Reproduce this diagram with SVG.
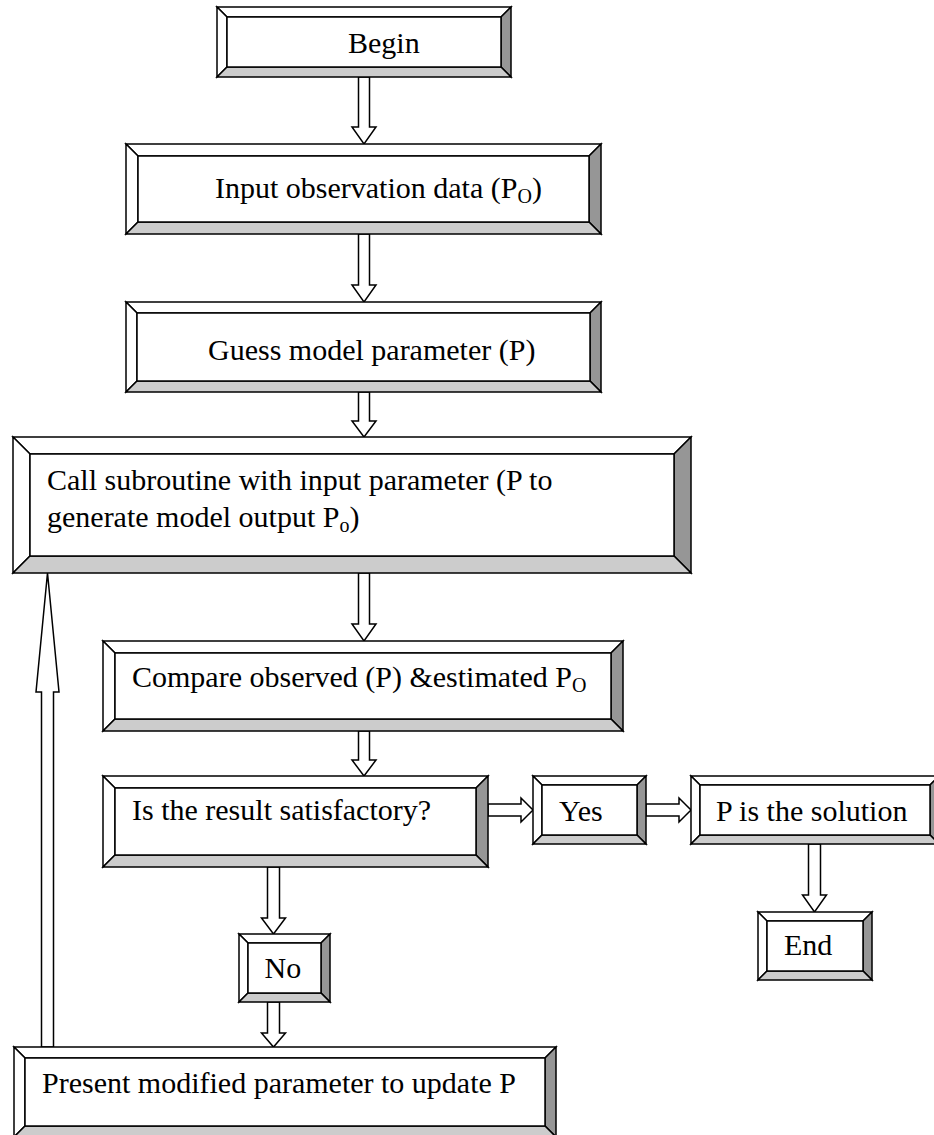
<svg xmlns="http://www.w3.org/2000/svg" width="934" height="1135" viewBox="0 0 934 1135">
<style>
.w{fill:#ffffff;stroke:#000;stroke-width:1.5;stroke-linejoin:miter}
.r{fill:#969696;stroke:#000;stroke-width:1.5}
.b{fill:#cccccc;stroke:#000;stroke-width:1.5}
.i{fill:#ffffff;stroke:#000;stroke-width:1.5}
.a{fill:#ffffff;stroke:#000;stroke-width:1.5;stroke-linejoin:miter}
text{font-family:"Liberation Serif","Times New Roman",serif;font-size:30px;fill:#000}
.s{font-size:20px}
</style>
<rect width="934" height="1135" fill="#ffffff"/>
<g id="connectors">
<polygon class="a" points="358.5,77 369.5,77 369.5,127 376,127 364,144 352,127 358.5,127"/>
<polygon class="a" points="358.5,234 369.5,234 369.5,285 376,285 364,302 352,285 358.5,285"/>
<polygon class="a" points="358.5,392 369.5,392 369.5,421 376,421 364,437 352,421 358.5,421"/>
<polygon class="a" points="358.5,573 369.5,573 369.5,624 376,624 364,641 352,624 358.5,624"/>
<polygon class="a" points="358.5,731 369.5,731 369.5,760 376,760 364,776 352,760 358.5,760"/>
<polygon class="a" points="267.5,867 279.5,867 279.5,918 285.5,918 273.5,934 261.5,918 267.5,918"/>
<polygon class="a" points="267.5,1002 279.5,1002 279.5,1033 285.5,1033 273.5,1047 261.5,1033 267.5,1033"/>
<polygon class="a" points="488,804 521,804 521,798 533,810 521,822 521,816 488,816"/>
<polygon class="a" points="646,804 679,804 679,798 691,810 679,822 679,816 646,816"/>
<polygon class="a" points="808.5,844 820.5,844 820.5,895 826.5,895 814.5,912 802.5,895 808.5,895"/>
<polygon class="a" points="41.5,1047 53.5,1047 53.5,692 59,692 47.5,573 36,692 41.5,692"/>
</g>
<g id="begin">
<path class="w" d="M217 7 H511 L501 17 H227 Z"/>
<path class="w" d="M217 7 L227 17 V67 L217 77 Z"/>
<path class="r" d="M511 7 V77 L501 67 V17 Z"/>
<path class="b" d="M217 77 H511 L501 67 H227 Z"/>
<rect class="i" x="227" y="17" width="274" height="50"/>
<text x="348" y="53">Begin</text>
</g>
<g id="input">
<path class="w" d="M126 144 H601 L589 156 H138 Z"/>
<path class="w" d="M126 144 L138 156 V222 L126 234 Z"/>
<path class="r" d="M601 144 V234 L589 222 V156 Z"/>
<path class="b" d="M126 234 H601 L589 222 H138 Z"/>
<rect class="i" x="138" y="156" width="451" height="66"/>
<text x="215" y="198">Input observation data (P<tspan class="s" dy="5">O</tspan><tspan dy="-5">)</tspan></text>
</g>
<g id="guess">
<path class="w" d="M126 302 H601 L590 313 H137 Z"/>
<path class="w" d="M126 302 L137 313 V381 L126 392 Z"/>
<path class="r" d="M601 302 V392 L590 381 V313 Z"/>
<path class="b" d="M126 392 H601 L590 381 H137 Z"/>
<rect class="i" x="137" y="313" width="453" height="68"/>
<text x="208" y="360">Guess model parameter (P)</text>
</g>
<g id="call">
<path class="w" d="M13 437 H691 L674 454 H30 Z"/>
<path class="w" d="M13 437 L30 454 V556 L13 573 Z"/>
<path class="r" d="M691 437 V573 L674 556 V454 Z"/>
<path class="b" d="M13 573 H691 L674 556 H30 Z"/>
<rect class="i" x="30" y="454" width="644" height="102"/>
<text x="47" y="490">Call subroutine with input parameter (P to</text>
<text x="47" y="527">generate model output P<tspan class="s" dy="5">o</tspan><tspan dy="-5">)</tspan></text>
</g>
<g id="compare">
<path class="w" d="M103 641 H623 L611 653 H115 Z"/>
<path class="w" d="M103 641 L115 653 V719 L103 731 Z"/>
<path class="r" d="M623 641 V731 L611 719 V653 Z"/>
<path class="b" d="M103 731 H623 L611 719 H115 Z"/>
<rect class="i" x="115" y="653" width="496" height="66"/>
<text x="132" y="687">Compare observed (P) &amp;estimated P<tspan class="s" dy="5">O</tspan></text>
</g>
<g id="satisfactory">
<path class="w" d="M103 776 H488 L476 788 H115 Z"/>
<path class="w" d="M103 776 L115 788 V855 L103 867 Z"/>
<path class="r" d="M488 776 V867 L476 855 V788 Z"/>
<path class="b" d="M103 867 H488 L476 855 H115 Z"/>
<rect class="i" x="115" y="788" width="361" height="67"/>
<text x="132" y="820">Is the result satisfactory?</text>
</g>
<g id="yes">
<path class="w" d="M533 776 H646 L637 785 H542 Z"/>
<path class="w" d="M533 776 L542 785 V835 L533 844 Z"/>
<path class="r" d="M646 776 V844 L637 835 V785 Z"/>
<path class="b" d="M533 844 H646 L637 835 H542 Z"/>
<rect class="i" x="542" y="785" width="95" height="50"/>
<text x="559" y="821">Yes</text>
</g>
<g id="solution">
<path class="w" d="M691 776 H939 L930 785 H700 Z"/>
<path class="w" d="M691 776 L700 785 V835 L691 844 Z"/>
<path class="r" d="M939 776 V844 L930 835 V785 Z"/>
<path class="b" d="M691 844 H939 L930 835 H700 Z"/>
<rect class="i" x="700" y="785" width="230" height="50"/>
<text x="716" y="821">P is the solution</text>
</g>
<g id="end">
<path class="w" d="M758 912 H872 L863 921 H767 Z"/>
<path class="w" d="M758 912 L767 921 V971 L758 980 Z"/>
<path class="r" d="M872 912 V980 L863 971 V921 Z"/>
<path class="b" d="M758 980 H872 L863 971 H767 Z"/>
<rect class="i" x="767" y="921" width="96" height="50"/>
<text x="784" y="955">End</text>
</g>
<g id="no">
<path class="w" d="M239 934 H330 L321 943 H248 Z"/>
<path class="w" d="M239 934 L248 943 V993 L239 1002 Z"/>
<path class="r" d="M330 934 V1002 L321 993 V943 Z"/>
<path class="b" d="M239 1002 H330 L321 993 H248 Z"/>
<rect class="i" x="248" y="943" width="73" height="50"/>
<text x="264.5" y="978">No</text>
</g>
<g id="present">
<path class="w" d="M14 1047 H556 L545 1058 H25 Z"/>
<path class="w" d="M14 1047 L25 1058 V1126 L14 1137 Z"/>
<path class="r" d="M556 1047 V1137 L545 1126 V1058 Z"/>
<path class="b" d="M14 1137 H556 L545 1126 H25 Z"/>
<rect class="i" x="25" y="1058" width="520" height="68"/>
<text x="42" y="1093">Present modified parameter to update P</text>
</g>
</svg>
